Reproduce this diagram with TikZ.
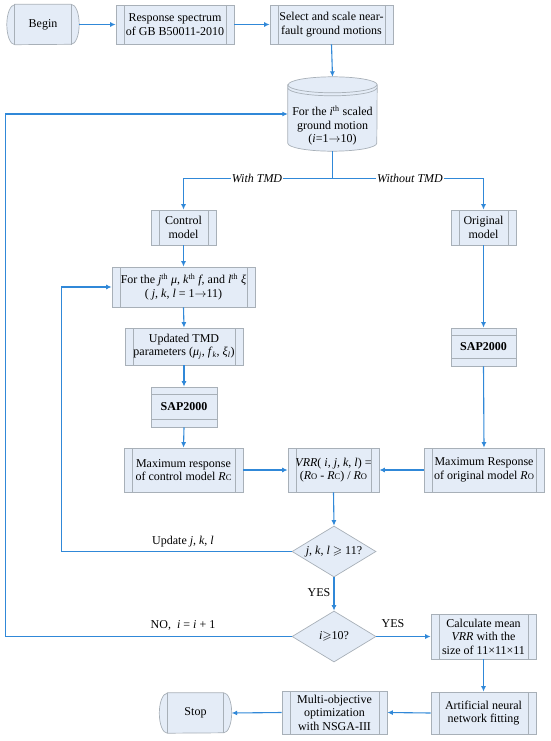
\documentclass[tikz,border=0pt]{standalone}
\usepackage{amssymb}
\usepackage{fontspec}
\setmainfont{Liberation Serif}
\usetikzlibrary{arrows.meta,shapes.geometric,backgrounds,calc}
\definecolor{boxfill}{HTML}{E4ECF7}
\definecolor{boxline}{HTML}{A8B0B8}
\definecolor{arrowc}{HTML}{3088D8}
\newcommand{\smc}[1]{{\fontsize{8.5}{9}\selectfont #1}}
\begin{document}
\begin{tikzpicture}[x=1pt,y=-1pt,
  every node/.style={font=\fontsize{12}{13.5}\selectfont},
  wh/.style 2 args={minimum width=#1pt, minimum height=#2pt},
  proc/.style={rectangle, fill=boxfill, draw=boxline, line width=0.7pt, align=center, inner sep=0pt,
    path picture={\draw[boxline, line width=0.7pt]
      ([xshift=8pt]path picture bounding box.north west) -- ([xshift=8pt]path picture bounding box.south west)
      ([xshift=-8pt]path picture bounding box.north east) -- ([xshift=-8pt]path picture bounding box.south east);}},
  sapbox/.style={rectangle, fill=boxfill, draw=boxline, line width=0.7pt, align=center, inner sep=0pt,
    path picture={\draw[boxline, line width=0.7pt]
      ([yshift=-7.5pt]path picture bounding box.north west) -- ([yshift=-7.5pt]path picture bounding box.north east)
      ([yshift=7.5pt]path picture bounding box.south west) -- ([yshift=7.5pt]path picture bounding box.south east);}},
  term/.style={rectangle, draw=none, fill=none, align=center, inner sep=0pt},
  termshape/.style={fill=boxfill, draw=boxline, line width=0.7pt},
  dec/.style={diamond, fill=boxfill, draw=boxline, line width=0.7pt, inner sep=0pt, aspect=1.65,
    minimum width=84pt, minimum height=51pt},
  arr/.style={draw=arrowc, line width=1.1pt, -{Latex[length=5.5pt,width=5pt]}},
  lbl/.style={inner sep=1pt}
]
\useasboundingbox (0,0) rectangle (550,741);

% nodes
\node[term, wh={72}{40}] (begin) at (43,24.5) {Begin};
\node[proc, wh={118}{39}] (resp) at (175,24.5) {Response spectrum\\of GB B50011-2010};
\node[proc, wh={123}{39}] (sel) at (331.5,24.5) {Select and scale near-\\fault ground motions};
\node[term, wh={89}{74}] (cyl) at (332.5,114) {\raisebox{-15.5pt}[0pt][0pt]{\begin{tabular}{@{}c@{}}For the \textit{i}\textsuperscript{th} scaled\\ground motion\\(\textit{i}=1$\to$10)\end{tabular}}};

\node[proc, wh={65}{35}] (ctrl) at (183.5,227.5) {Control\\model};
\node[proc, wh={65}{35}] (orig) at (483.5,227.5) {Original\\model};
\node[proc, wh={143}{40}] (forj) at (183.5,287) {For the \textit{j}\textsuperscript{th} \textit{μ}, \textit{k}\textsuperscript{th} \textit{f}, and \textit{l}\textsuperscript{th} \textit{ξ}\\( \textit{j}, \textit{k}, \textit{l} = 1$\to$11)};
\node[proc, wh={118}{37}] (upd) at (184,346.5) {Updated TMD\\parameters (\textit{μ}\textsubscript{\textit{j}}, \textit{f}\textsubscript{\textit{k}}, \textit{ξ}\textsubscript{\textit{l}})};
\node[sapbox, wh={66}{40}] (sapl) at (184,407) {\textbf{SAP2000}};
\node[sapbox, wh={65}{38}] (sapr) at (483.5,347) {\textbf{SAP2000}};
\node[proc, wh={119}{44}] (maxc) at (183.5,470) {Maximum response\\of control model \textit{R}\smc{C}};
\node[proc, wh={91}{44}] (vrr) at (333.5,470) {\textit{VRR}( \textit{i}, \textit{j}, \textit{k}, \textit{l}) =\\(\textit{R}\smc{O} - \textit{R}\smc{C}) / \textit{R}\smc{O}};
\node[proc, wh={120}{44}] (maxo) at (484,470) {Maximum Response\\of original model \textit{R}\smc{O}};
\node[dec] (d1) at (334,551.5) {\textit{j}, \textit{k}, \textit{l} $\geqslant$ 11?};
\node[dec] (d2) at (334,636.5) {\textit{i}$\geqslant$10?};
\node[proc, wh={105}{45}] (calc) at (483.5,636.5) {Calculate mean\\\textit{VRR} with the\\size of 11×11×11};
\node[proc, wh={105}{42}] (ann) at (483.5,713) {Artificial neural\\network fitting};
\node[proc, wh={105}{43}] (multi) at (334.5,712.5) {Multi-objective\\optimization\\with NSGA-III};
\node[term, wh={72}{40}] (stop) at (195.5,713) {Stop};

% background shapes
\begin{pgfonlayer}{background}
\foreach \n in {begin,stop}{
  \draw[termshape] ([xshift=8pt]\n.north west) -- ([xshift=-8pt]\n.north east)
    arc[start angle=90,end angle=-90,x radius=8pt,y radius=20pt]
    -- ([xshift=8pt]\n.south west)
    arc[start angle=270,end angle=90,x radius=8pt,y radius=20pt] -- cycle;
  \draw[boxline, line width=0.7pt] ([xshift=8pt]\n.north west) -- ([xshift=8pt]\n.south west)
    ([xshift=-8pt]\n.north east) -- ([xshift=-8pt]\n.south east);
}
\draw[termshape] ([yshift=-8pt]cyl.north west) -- ([yshift=8pt]cyl.south west)
  arc[start angle=180,end angle=360,x radius=44.5pt,y radius=8pt]
  -- ([yshift=-8pt]cyl.north east)
  arc[start angle=0,end angle=180,x radius=44.5pt,y radius=8pt] -- cycle;
\draw[boxline, line width=0.7pt] ([yshift=-8pt]cyl.north west) arc[start angle=180,end angle=360,x radius=44.5pt,y radius=8pt];
\draw[boxline, line width=0.7pt] ([yshift=-11pt]cyl.north west) arc[start angle=180,end angle=360,x radius=44.5pt,y radius=8pt];
\end{pgfonlayer}

% connectors
\draw[arr] (begin.east) -- (resp.west);
\draw[arr] (resp.east) -- (sel.west);
\draw[arr] (sel.south) -- (cyl.north);
\draw[arr] (cyl.south) -- ++(0,27) -| (ctrl.north);
\draw[arr] (cyl.south) -- ++(0,27) -| (orig.north);
\node[lbl, fill=white] (lwith) at (257,178) {\textit{With TMD}};
\node[lbl, fill=white] (lwithout) at (410,178) {\textit{Without TMD}};
\draw[arr] (ctrl.south) -- (forj.north);
\draw[arr] (forj.south) -- (upd.north);
\draw[arr] (upd.south) -- (sapl.north);
\draw[arr] (sapl.south) -- (maxc.north);
\draw[arr] (maxc.east) -- (vrr.west);
\draw[arr] (orig.south) -- (sapr.north);
\draw[arr] (sapr.south) -- (maxo.north);
\draw[arr] (maxo.west) -- (vrr.east);
\draw[arr] (vrr.south) -- (d1.north);
\draw[arr] (d1.west) -- ++(-230,0) |- (forj.west);
\node[lbl] (lupd) at (183,542) {Update \textit{j}, \textit{k}, \textit{l}};
\draw[arr] (d1.south) -- (d2.north);
\node[lbl] (lyes1) at (319,593) {YES};
\draw[arr] (d2.west) -- ++(-286,0) |- (cyl.west);
\node[lbl] (lno) at (183,625) {NO,\ \ \textit{i} = \textit{i} + 1};
\draw[arr] (d2.east) -- (calc.west);
\node[lbl] (lyes2) at (393,624) {YES};
\draw[arr] (calc.south) -- (ann.north);
\draw[arr] (ann.west) -- (multi.east);
\draw[arr] (multi.west) -- (stop.east);
\end{tikzpicture}
\end{document}
